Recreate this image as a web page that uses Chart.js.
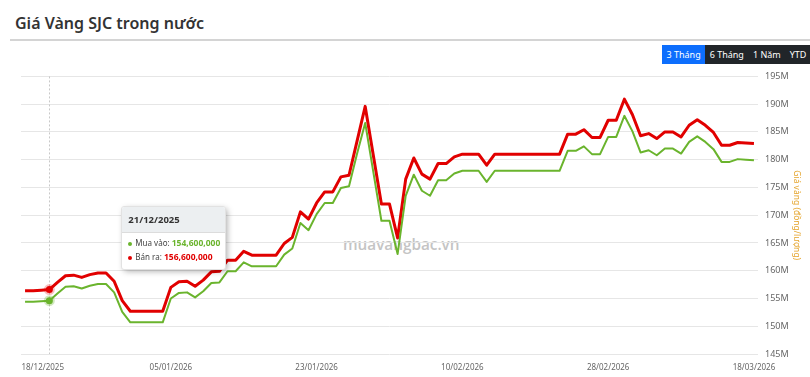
<!DOCTYPE html>
<html lang="vi">
<head>
<meta charset="utf-8">
<title>Giá Vàng SJC trong nước</title>
<script src="https://cdn.jsdelivr.net/npm/chart.js@4"></script>
<style>
  body { margin: 0; background: #fff; font-family: "Noto Sans", sans-serif; }
  #page { position: relative; width: 810px; height: 377px; overflow: hidden; }
  h2 { position: absolute; left: 15px; top: 13px; margin: 0; font-size: 16px; line-height: 20px; font-weight: 600; color: #333; }
  .rule { position: absolute; left: 10px; right: 0; top: 39px; height: 2px; background: #d4d4d4; }
  .ranges { position: absolute; top: 45px; left: 662px; display: flex; white-space: nowrap; }
  .ranges span { color: #fff; font-size: 9px; height: 19px; line-height: 19px; padding: 0 4.5px; background: #212529; }
  .ranges span.on { background: #0d6efd; }
  .mark { position: absolute; left: 343px; top: 234px; font-family: "Open Sans", sans-serif; font-size: 15.3px; line-height: 20px; font-weight: 600; color: #c4c4c4; }
  #box { position: absolute; left: 0; top: 64px; width: 810px; height: 313px; }
  #tip { position: absolute; min-width: 101px; box-sizing: border-box; background: #fff; border: 1px solid #e2e2e2; border-radius: 3px;
         box-shadow: 2px 2px 6px -1px rgba(0,0,0,0.35); font-size: 8px; color: #444; overflow: hidden; pointer-events: none; opacity: 0; }
  #tip .head { background: #eceff1; border-bottom: 1px solid #dcdcdc; height: 25px; line-height: 25px; padding: 0 6px; font-weight: bold; font-size: 9.5px; color: #333; }
  #tip .body { padding: 3px 5px 5px 6px; }
  #tip .row { line-height: 14px; white-space: nowrap; }
  #tip .row b { font-size: 8.5px; }
  #tip .dot { display: inline-block; width: 4px; height: 4px; border-radius: 50%; margin-right: 3px; vertical-align: middle; }
</style>
</head>
<body>
<div id="page">
  <h2>Giá Vàng SJC trong nước</h2>
  <div class="rule"></div>
  <div class="ranges"><span class="on">3 Tháng</span><span>6 Tháng</span><span>1 Năm</span><span>YTD</span></div>
  <div class="mark">muavangbac.vn</div>
  <div id="box">
    <canvas id="goldChart"></canvas>
    <div id="tip"></div>
  </div>
</div>
<script>
// gia ban ra / mua vao, trieu dong / luong, moi ngay tu 18/12/2025
const sellPrice = [
  156.4, 156.4, 156.5, 156.6, 157.9, 159.1, 159.2, 158.8, 159.3, 159.6,
  159.6, 158.1, 154.6, 152.7, 152.7, 152.7, 152.7, 152.7, 157.0, 158.0,
  158.1, 157.2, 158.3, 159.8, 159.9, 161.9, 161.9, 163.5, 162.8, 162.8,
  162.8, 162.8, 164.9, 166.0, 170.6, 169.3, 172.2, 174.2, 174.2, 176.9,
  177.2, 183.4, 189.6, 180.8, 172.0, 172.0, 165.9, 176.5, 180.3, 177.4,
  176.5, 179.3, 179.3, 180.5, 181.0, 181.0, 181.0, 179.0, 181.0, 181.0,
  181.0, 181.0, 181.0, 181.0, 181.0, 181.0, 181.0, 184.6, 184.6, 185.4,
  184.0, 184.0, 187.1, 187.1, 190.9, 188.1, 184.3, 184.7, 183.8, 185.0,
  185.0, 184.1, 186.2, 187.2, 186.2, 184.9, 182.6, 182.6, 183.1, 183.0,
  182.9
];
const buyPrice = [
  154.4, 154.4, 154.5, 154.6, 155.9, 157.1, 157.2, 156.8, 157.3, 157.6,
  157.6, 156.1, 152.6, 150.7, 150.7, 150.7, 150.7, 150.7, 155.0, 156.0,
  156.1, 155.2, 156.3, 157.8, 157.9, 159.9, 159.9, 161.5, 160.8, 160.8,
  160.8, 160.8, 162.9, 164.0, 168.6, 167.3, 170.2, 172.2, 172.2, 174.9,
  175.2, 181.1, 186.6, 177.8, 169.0, 169.0, 163.0, 173.5, 177.3, 174.4,
  173.5, 176.3, 176.3, 177.5, 178.0, 178.0, 178.0, 176.0, 178.0, 178.0,
  178.0, 178.0, 178.0, 178.0, 178.0, 178.0, 178.0, 181.6, 181.6, 182.4,
  181.0, 181.0, 184.1, 184.1, 187.9, 185.1, 181.3, 181.7, 180.8, 182.0,
  182.0, 181.1, 183.2, 184.2, 183.2, 181.9, 179.6, 179.6, 180.1, 180.0,
  179.9
];
const xTickLabels = ['18/12/2025', '05/01/2026', '23/01/2026', '10/02/2026', '28/02/2026', '18/03/2026'];
const yMin = 145, yMax = 195, yStep = 5;
const shownIndex = 3; // ngay dang mo tooltip

const pad = n => String(n).padStart(2, '0');
const dates = [];
for (let i = 0; i < sellPrice.length; i++) {
  const d = new Date(2025, 11, 18 + i);
  dates.push(pad(d.getDate()) + '/' + pad(d.getMonth() + 1) + '/' + d.getFullYear());
}

const GREEN = '#6ab42d', RED = '#e10000';
const FONT = '"Noto Sans", sans-serif';
const fmt = v => v.toLocaleString('en-US');

function externalTooltip(context) {
  const {tooltip} = context;
  const el = document.getElementById('tip');
  if (tooltip.opacity === 0 || !tooltip.dataPoints || !tooltip.dataPoints.length) { el.style.opacity = 0; return; }
  const idx = tooltip.dataPoints[0].dataIndex;
  let rows = '';
  tooltip.dataPoints.forEach(p => {
    const c = p.dataset.borderColor;
    rows += '<div class="row"><span class="dot" style="background:' + c + '"></span>' + p.dataset.label +
      ': <b style="color:' + c + '">' + fmt(p.raw) + '</b></div>';
  });
  el.innerHTML = '<div class="head">' + dates[idx] + '</div><div class="body">' + rows + '</div>';
  el.style.left = (tooltip.caretX + 72) + 'px';
  el.style.top = (tooltip.caretY - 89) + 'px';
  el.style.opacity = 1;
}

const crosshair = {
  id: 'crosshair',
  beforeDatasetsDraw(chart) {
    const act = chart.getActiveElements();
    if (!act.length) return;
    const {ctx, chartArea} = chart;
    const x = act[0].element.x;
    ctx.save();
    ctx.strokeStyle = '#c8c8c8';
    ctx.lineWidth = 1;
    ctx.setLineDash([2, 2]);
    ctx.beginPath();
    ctx.moveTo(Math.round(x) + 0.5, chartArea.top);
    ctx.lineTo(Math.round(x) + 0.5, chartArea.bottom);
    ctx.stroke();
    ctx.restore();
  }
};

const chart = new Chart(document.getElementById('goldChart'), {
  type: 'line',
  data: {
    labels: dates,
    datasets: [
      {
        label: 'Mua vào',
        data: buyPrice.map(v => Math.round(v * 1e6)),
        borderColor: GREEN, borderWidth: 2, borderJoinStyle: 'round',
        pointRadius: 0, pointHoverRadius: 3.5, pointHoverBorderWidth: 4,
        pointHoverBackgroundColor: GREEN, pointHoverBorderColor: 'rgba(106,180,45,0.3)'
      },
      {
        label: 'Bán ra',
        data: sellPrice.map(v => Math.round(v * 1e6)),
        borderColor: RED, borderWidth: 3, borderJoinStyle: 'round',
        pointRadius: 0, pointHoverRadius: 3.5, pointHoverBorderWidth: 4,
        pointHoverBackgroundColor: RED, pointHoverBorderColor: 'rgba(230,0,0,0.25)'
      }
    ]
  },
  options: {
    responsive: true,
    maintainAspectRatio: false,
    animation: false,
    events: [],
    layout: { padding: { left: 21, top: 7, right: 0, bottom: 0 } },
    interaction: { mode: 'index', intersect: false },
    plugins: {
      legend: { display: false },
      tooltip: { enabled: false, external: externalTooltip }
    },
    scales: {
      x: {
        type: 'category',
        offset: true,
        grid: { display: false, drawTicks: false },
        border: { display: false },
        ticks: {
          autoSkip: false, maxRotation: 0, padding: 9, color: '#666',
          font: { family: FONT, size: 8 },
          callback: (v, i) => {
            if (!xTickLabels.includes(dates[i])) return '';
            return i === 0 ? ' '.repeat(17) + dates[i] : dates[i];
          }
        },
        afterFit: s => { s.height = 23; s.paddingLeft = 0; s.paddingRight = 0; }
      },
      y: {
        position: 'right',
        min: yMin * 1e6, max: yMax * 1e6,
        grid: { color: '#e6e6e6', drawTicks: false },
        border: { display: false },
        ticks: {
          stepSize: yStep * 1e6, padding: 7, color: '#666',
          font: { family: FONT, size: 9 },
          callback: v => (v / 1e6) + 'M'
        },
        title: {
          display: true, text: 'Giá vàng (đồng/lượng)', color: '#e5a52e',
          font: { family: FONT, size: 8.5 }, padding: { top: 8, bottom: 0 }
        },
        afterFit: s => { s.width = 52; }
      }
    }
  },
  plugins: [crosshair]
});

const active = [{datasetIndex: 0, index: shownIndex}, {datasetIndex: 1, index: shownIndex}];
chart.setActiveElements(active);
const m = chart.getDatasetMeta(0).data[shownIndex];
chart.tooltip.setActiveElements(active, {x: m.x, y: m.y});
chart.update();
</script>
</body>
</html>
